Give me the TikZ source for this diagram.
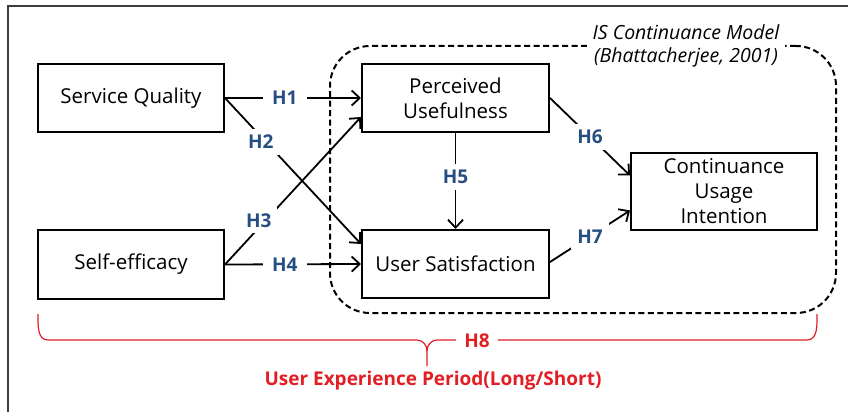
\documentclass[tikz,border=0pt]{standalone}
\usepackage{fontspec}
\setmainfont{Open Sans}
\usetikzlibrary{arrows.meta,calc}
\definecolor{hblue}{RGB}{38,78,128}
\definecolor{hred}{RGB}{225,30,35}
\definecolor{framegray}{RGB}{60,60,60}
\tikzset{
  box/.style={draw=black,line width=2pt,fill=white,minimum width=186pt,align=center,font=\fontsize{20.5}{25}\selectfont,inner sep=2pt},
  conn/.style={line width=1.8pt,-{Straight Barb[length=8pt,width=15pt,line width=1.8pt]}},
  hlab/.style={fill=white,text=hblue,font=\bfseries\fontsize{19}{21}\selectfont,inner xsep=9pt,inner ysep=7pt},
  rlab/.style={fill=white,text=hred,font=\bfseries\fontsize{19}{22}\selectfont,inner sep=3pt},
  brace/.style={draw=hred,line width=1.2pt},
}
\begin{document}
\begin{tikzpicture}[x=1pt,y=-1pt]
\useasboundingbox (0,0) rectangle (848,412);
% frame
\coordinate (fa) at (848,6);
\coordinate (fb) at (8,6);
\coordinate (fc) at (8,412);
\draw[framegray,line width=1.3pt] (fa) -- (fb) -- (fc);
% dashed model box
\node[draw=black,line width=2pt,dashed,dash pattern=on 6pt off 3.5pt,rounded corners=40pt,minimum width=506pt,minimum height=267pt] (model) at (583,179.5) {};
\node[fill=white,align=center,font=\itshape\fontsize{19.5}{23}\selectfont,inner xsep=6pt,inner ysep=1pt] (modlab) at (686,45.5) {IS Continuance Model\\(Bhattacherjee, 2001)};
% boxes
\node[box,minimum height=68pt] (SQ) at (131,98) {Service Quality};
\node[box,minimum height=69pt] (SE) at (131,264.5) {Self-efficacy};
\node[box,minimum height=68pt,minimum width=187pt] (PU) at (455.5,98) {Perceived\\Usefulness};
\node[box,minimum height=68pt,minimum width=187pt] (US) at (455.5,264) {User Satisfaction};
\node[box,minimum height=77pt] (CU) at (724,191.5) {Continuance\\Usage\\Intention};
% connectors
\draw[conn] (SQ.east) -- node[hlab,pos=0.44] (h1) {H1} (PU.west);
\draw[conn] (SQ.east) -- node[hlab,pos=0.3,xshift=-5pt,inner xsep=6pt,inner ysep=6pt] (h2) {H2} ([yshift=20pt]US.west);
\draw[conn] (SE.east) -- node[hlab,pos=0.3,xshift=-7pt,inner xsep=6pt,inner ysep=6pt] (h3) {H3} ([yshift=-19pt]PU.west);
\draw[conn] (SE.east) -- node[hlab,pos=0.44] (h4) {H4} (US.west);
\draw[conn] (PU.south) -- node[hlab,pos=0.46,inner ysep=6pt] (h5) {H5} (US.north);
\draw[conn] (PU.east) -- node[hlab,pos=0.5,inner xsep=6pt,inner ysep=6pt] (h6) {H6} ([yshift=16pt]CU.west);
\draw[conn] ([yshift=2pt]US.east) -- node[hlab,pos=0.5,inner xsep=6pt,inner ysep=6pt] (h7) {H7} ([yshift=-19pt]CU.west);
% red brace
\coordinate (bl) at (38,314);
\coordinate (blc) at (48,340);
\coordinate (bml) at (417,340);
\coordinate (bm) at (427,351);
\coordinate (bmr) at (437,340);
\coordinate (brc) at (807,340);
\coordinate (br) at (817,314);
\coordinate (bs) at (427,366);
\draw[brace] (bl) to[out=-90,in=180] (blc) -- (bml) to[out=0,in=90] (bm) -- (bs);
\draw[brace] (br) to[out=-90,in=0] (brc) -- (bmr) to[out=180,in=90] (bm);
\node[rlab,inner xsep=8pt] (h8) at (477,341) {H8};
\node[text=hred,font=\bfseries\fontsize{19}{22}\selectfont] (uep) at (433,381) {User Experience Period(Long/Short)};
\end{tikzpicture}
\end{document}
